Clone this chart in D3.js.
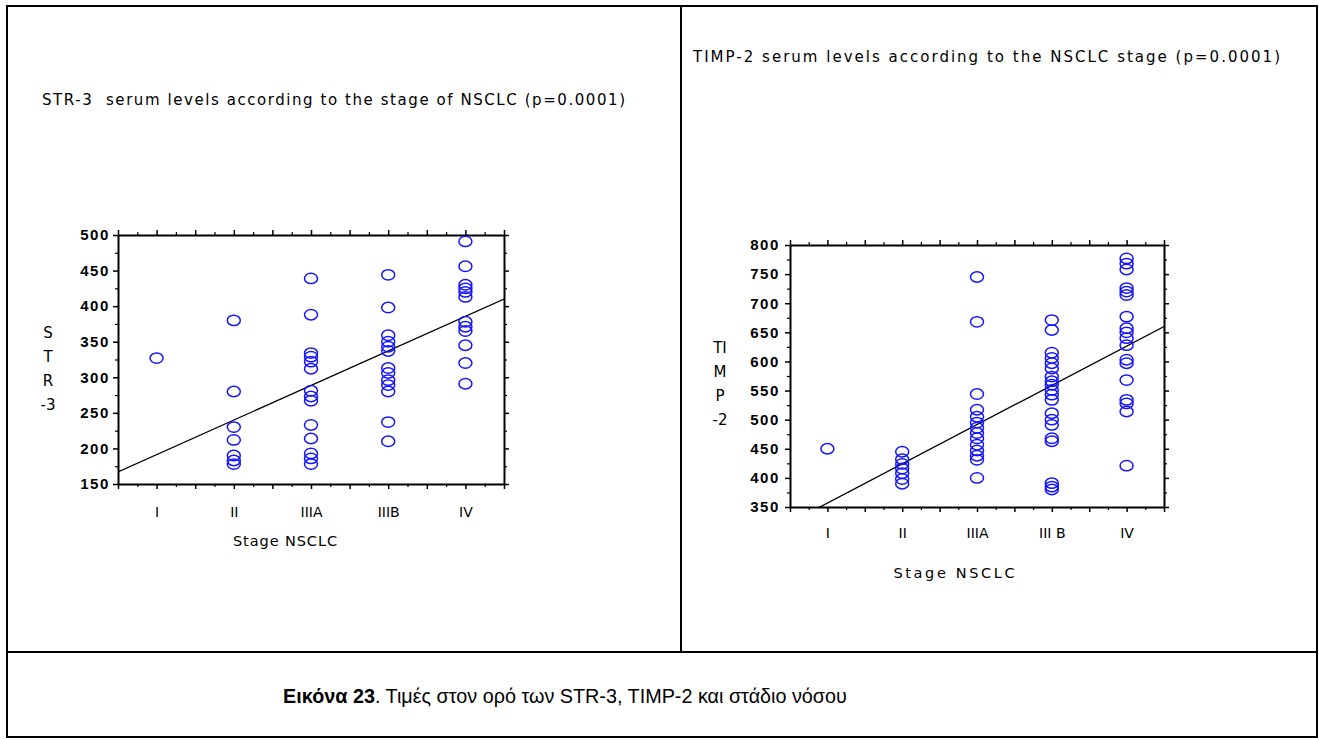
<!DOCTYPE html>
<html>
<head>
<meta charset="utf-8">
<script src="https://cdn.jsdelivr.net/npm/d3@7"></script>
<style>
  body { margin: 0; background: #fff; }
  svg { display: block; }
</style>
</head>
<body>
<svg id="fig" width="1319" height="740"></svg>
<script>
// Disease stage categories (x axis of both panels)
const stagesStr3 = ["I", "II", "IIIA", "IIIB", "IV"];
const stagesTimp2 = ["I", "II", "IIIA", "III B", "IV"];

// STR-3 serum levels, one list per stage (I, II, IIIA, IIIB, IV)
const str3ByStage = [
  [327],
  [380, 280, 230, 212, 190, 183, 178],
  [439, 388, 334, 329, 322, 312, 281, 273, 267, 233, 214, 193, 186, 178],
  [444, 398, 359, 350, 343, 337, 313, 306, 296, 289, 280, 237, 210],
  [491, 456, 430, 425, 420, 413, 378, 371, 365, 345, 320, 291]
];

// TIMP-2 serum levels, one list per stage (I, II, IIIA, IIIB, IV)
const timp2ByStage = [
  [450],
  [445, 432, 424, 416, 408, 398, 390],
  [745, 668, 544, 517, 505, 495, 486, 477, 468, 457, 447, 438, 431, 400],
  [671, 654, 615, 606, 597, 588, 574, 566, 560, 551, 543, 534, 511, 500, 491, 468, 463, 391, 385, 380],
  [777, 768, 758, 726, 720, 714, 677, 657, 650, 640, 628, 603, 597, 568, 534, 528, 514, 421]
];

// y-axis tick labels
const str3Ticks = [150, 200, 250, 300, 350, 400, 450, 500];
const timp2Ticks = [350, 400, 450, 500, 550, 600, 650, 700, 750, 800];

// Fitted trend lines: [stage position, level] at both ends of the x range
const str3Fit = [[0.5, 167], [5.5, 410]];
const timp2Fit = [[0.5, 323], [5.5, 660]];

// Panel titles and caption
const str3Title = "STR-3  serum levels according to the stage of NSCLC (p=0.0001)";
const timp2Title = "TIMP-2 serum levels according to the NSCLC stage (p=0.0001)";
const captionBold = "Εικόνα 23";
const captionRest = ". Τιμές στον ορό των STR-3, TIMP-2 και στάδιο νόσου";

const svg = d3.select("#fig");
const plotFont = "'DejaVu Sans', Verdana, sans-serif";
const numFont = "'Liberation Sans', Arial, sans-serif";

// Table frame around the figure
const frame = svg.append("g").attr("fill", "none").attr("stroke", "#000").attr("stroke-width", 2);
frame.append("rect").attr("x", 7).attr("y", 6).attr("width", 1310).attr("height", 731);
frame.append("line").attr("x1", 681).attr("x2", 681).attr("y1", 6).attr("y2", 652);
frame.append("line").attr("x1", 7).attr("x2", 1317).attr("y1", 652).attr("y2", 652);

function drawPanel(cfg) {
  const g = svg.append("g");
  const x = d3.scaleLinear().domain([0.5, 5.5]).range([cfg.left, cfg.right]);
  const y = d3.scaleLinear().domain(cfg.yDomain).range([cfg.bottom, cfg.top]);

  const majorX = d3.range(0.5, 5.51, 0.5);
  const minorX = d3.range(0.75, 5.5, 0.5);
  const majorY = cfg.yTicks;
  const minorY = d3.range(cfg.yDomain[0] + 25, cfg.yDomain[1], 50);

  // Tick marks on all four sides, pointing outward
  const sides = [
    [d3.axisBottom, x, `translate(0,${cfg.bottom})`, majorX, minorX],
    [d3.axisTop, x, `translate(0,${cfg.top})`, majorX, minorX],
    [d3.axisLeft, y, `translate(${cfg.left},0)`, majorY, minorY],
    [d3.axisRight, y, `translate(${cfg.right},0)`, majorY, minorY]
  ];
  sides.forEach(([axisFn, scale, tr, major, minor]) => {
    const a = g.append("g").attr("transform", tr)
      .call(axisFn(scale).tickValues(major).tickSize(5).tickSizeOuter(0).tickFormat(""));
    a.select(".domain").attr("stroke-width", 2);
    a.selectAll(".tick line").attr("stroke-width", 1.5);
    const b = g.append("g").attr("transform", tr)
      .call(axisFn(scale).tickValues(minor).tickSize(3).tickFormat(""));
    b.select(".domain").remove();
    b.selectAll(".tick line").attr("stroke-width", 1.2);
  });

  // y tick labels
  const yl = g.append("g").attr("transform", `translate(${cfg.left},0)`)
    .call(d3.axisLeft(y).tickValues(majorY).tickSize(0).tickPadding(cfg.yPad).tickFormat(d3.format("d")));
  yl.select(".domain").remove();
  yl.selectAll("text")
    .attr("font-family", numFont).attr("font-size", 15).attr("font-weight", "bold")
    .attr("letter-spacing", 1.6).attr("fill", "#000");

  // stage labels
  const xl = g.append("g").attr("transform", `translate(0,${cfg.bottom})`)
    .call(d3.axisBottom(x).tickValues([1, 2, 3, 4, 5]).tickSize(0).tickPadding(cfg.xPad)
      .tickFormat(d => cfg.stages[d - 1]));
  xl.select(".domain").remove();
  xl.selectAll("text")
    .attr("font-family", plotFont).attr("font-size", 14).attr("fill", "#000");

  // x axis title
  g.append("text")
    .attr("x", cfg.xTitleX).attr("y", cfg.xTitleY)
    .attr("text-anchor", "middle")
    .attr("font-family", plotFont).attr("font-size", 14.5)
    .attr("textLength", cfg.xTitleLen).attr("lengthAdjust", "spacing")
    .text("Stage NSCLC");

  // stacked y axis title
  g.append("g").selectAll("text").data(cfg.yTitle).join("text")
    .attr("x", cfg.yTitleX).attr("y", (d, i) => cfg.yTitleY + i * 24)
    .attr("text-anchor", "middle")
    .attr("font-family", plotFont).attr("font-size", 15)
    .text(d => d);

  // panel title
  g.append("text")
    .attr("x", cfg.titleX).attr("y", cfg.titleY)
    .attr("font-family", plotFont).attr("font-size", 15)
    .attr("textLength", cfg.titleLen).attr("lengthAdjust", "spacing")
    .style("white-space", "pre")
    .text(cfg.title);

  // fitted line, clipped to the plot box
  const clipId = "clip-" + cfg.id;
  g.append("clipPath").attr("id", clipId).append("rect")
    .attr("x", cfg.left).attr("y", cfg.top)
    .attr("width", cfg.right - cfg.left).attr("height", cfg.bottom - cfg.top);
  g.append("path")
    .datum(cfg.fit)
    .attr("clip-path", `url(#${clipId})`)
    .attr("fill", "none").attr("stroke", "#000").attr("stroke-width", 1.3)
    .attr("d", d3.line().x(d => x(d[0])).y(d => y(d[1])));

  // observations
  const pts = cfg.values.flatMap((vals, i) => vals.map(v => ({ s: i + 1, v })));
  g.append("g").selectAll("ellipse").data(pts).join("ellipse")
    .attr("cx", d => x(d.s)).attr("cy", d => y(d.v))
    .attr("rx", 6.5).attr("ry", 5.2)
    .attr("fill", "none").attr("stroke", "#1414ff").attr("stroke-width", 1.5);
}

drawPanel({
  id: "str3", left: 118, right: 504, top: 235, bottom: 484,
  yDomain: [150, 500], yTicks: str3Ticks, yPad: 8, xPad: 23,
  stages: stagesStr3, values: str3ByStage, fit: str3Fit,
  yTitle: ["S", "T", "R", "-3"], yTitleX: 48, yTitleY: 338,
  xTitleX: 285, xTitleY: 546, xTitleLen: 104,
  title: str3Title, titleX: 42, titleY: 105, titleLen: 583
});

drawPanel({
  id: "timp2", left: 790, right: 1164, top: 245, bottom: 507,
  yDomain: [350, 800], yTicks: timp2Ticks, yPad: 10, xPad: 21,
  stages: stagesTimp2, values: timp2ByStage, fit: timp2Fit,
  yTitle: ["TI", "M", "P", "-2"], yTitleX: 720, yTitleY: 353,
  xTitleX: 954, xTitleY: 578, xTitleLen: 121,
  title: timp2Title, titleX: 693, titleY: 62, titleLen: 587
});

// Figure caption
const cap = svg.append("text")
  .attr("x", 565).attr("y", 703)
  .attr("text-anchor", "middle")
  .attr("font-family", "Arial, 'Liberation Sans', sans-serif")
  .attr("font-size", 19.8).attr("fill", "#000");
cap.append("tspan").attr("font-weight", "bold").text(captionBold);
cap.append("tspan").text(captionRest);
</script>
</body>
</html>
